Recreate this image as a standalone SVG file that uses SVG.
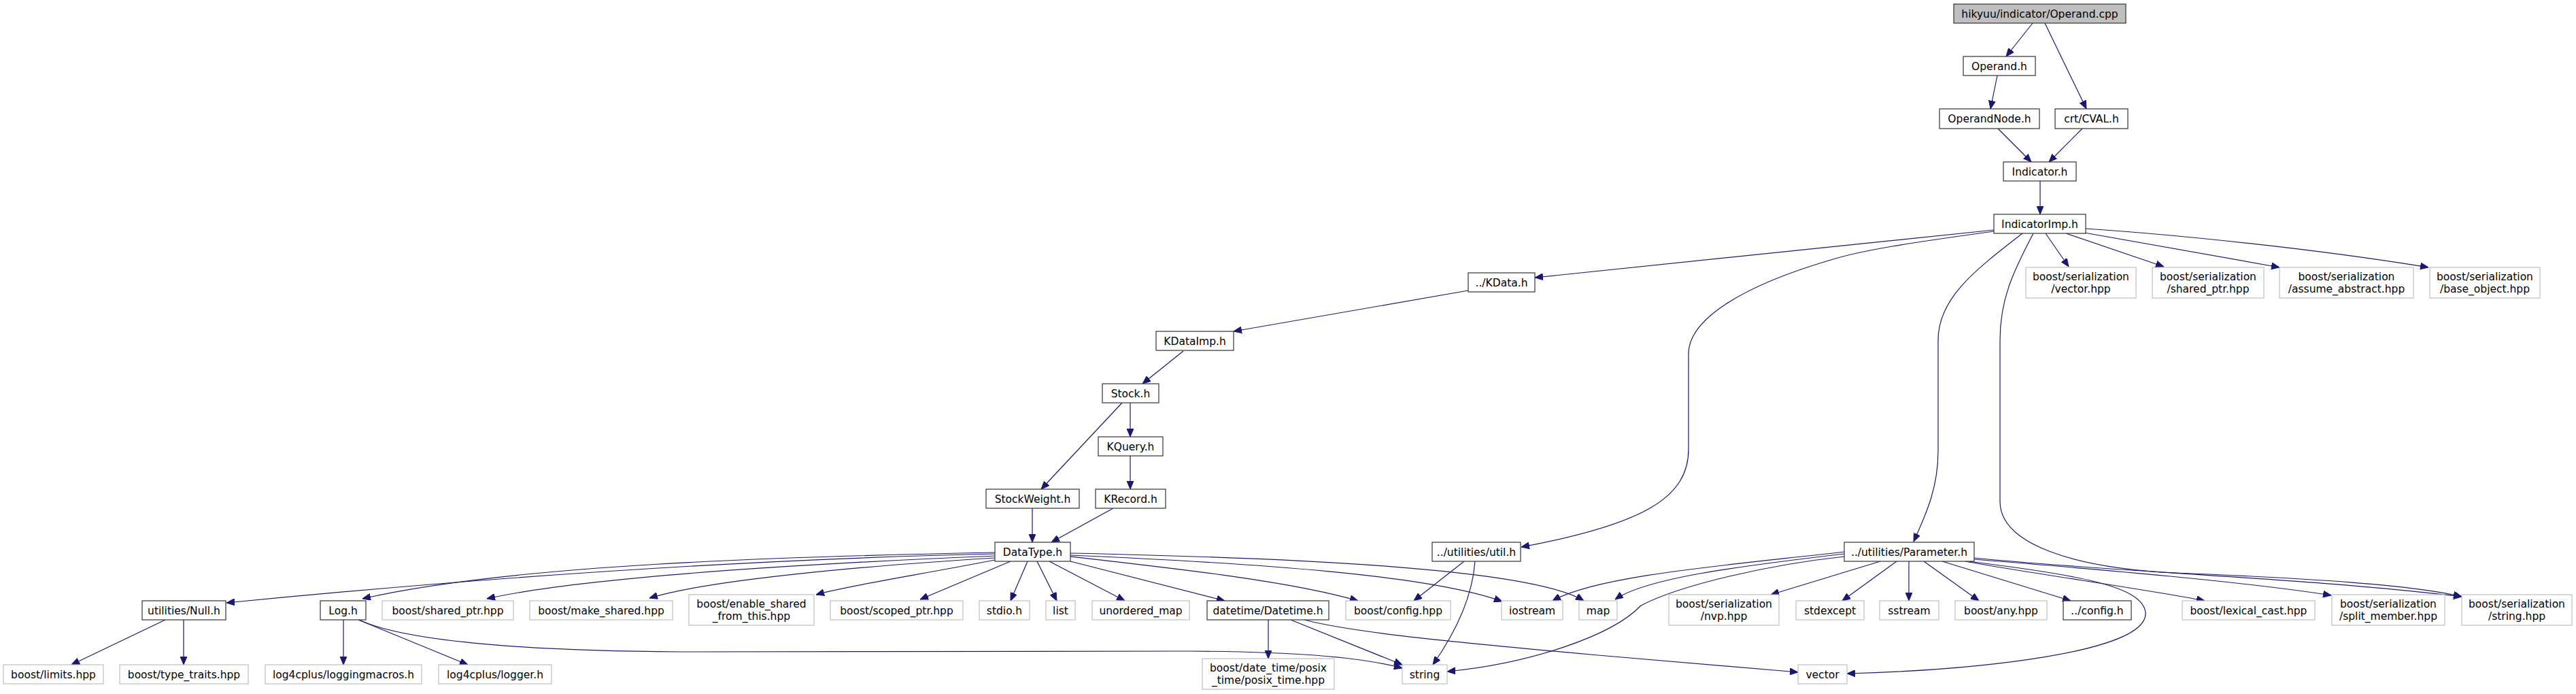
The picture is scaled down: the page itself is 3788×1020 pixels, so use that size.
<svg xmlns="http://www.w3.org/2000/svg" width="3788" height="1020" viewBox="0 0 3788 1020">
<style>
rect{fill:#fff;stroke:#333;stroke-width:1.2}
.root rect{fill:#bfbfbf;stroke:#333}
.ext rect{stroke:#bfbfbf}
text{font-family:"DejaVu Sans","Liberation Sans",sans-serif;font-size:15.5px;fill:#000;text-anchor:middle}
#edges path{fill:none;stroke:#191970;stroke-width:1.2;marker-end:url(#a)}
</style>
<defs>
<marker id="a" markerWidth="12" markerHeight="10" refX="12" refY="5" orient="auto" markerUnits="userSpaceOnUse"><path d="M0,0 L12,5 L0,10 z" fill="#191970" stroke="#191970" stroke-width="1"/></marker>
</defs>
<rect x="0" y="0" width="3788" height="1020" style="fill:#fff;stroke:none"/>
<g id="edges">
<path d="M2989,34 L2950,83"/>
<path d="M3007,34 L3068,160"/>
<path d="M2937,111 L2927,160"/>
<path d="M2938,189 L2987,238"/>
<path d="M3062,189 L3013,238"/>
<path d="M3000,266 L3000,315"/>
<path d="M2932,338 L2257,408"/>
<path d="M2932,340 C2800,358 2740,368 2699,380 C2560,420 2483,470 2483,520 L2483,660 C2483,730 2420,770 2237,804"/>
<path d="M2974,343 C2900,400 2850,440 2850,500 L2850,663 C2850,720 2830,760 2814,796"/>
<path d="M2990,343 C2960,400 2941,440 2941,500 L2941,737 C2941,800 3050,835 3200,842 C3400,850 3550,860 3620,877"/>
<path d="M3008,343 L3042,392"/>
<path d="M3038,343 L3182,392"/>
<path d="M3065,342 L3352,393"/>
<path d="M3067,336 C3200,345 3400,365 3571,393"/>
<path d="M2159,427 L1814,487"/>
<path d="M1740,516 L1680,564"/>
<path d="M1662,592 L1662,642"/>
<path d="M1650,592 L1531,719"/>
<path d="M1662,670 L1662,719"/>
<path d="M1518,747 L1518,797"/>
<path d="M1637,747 L1546,797"/>
<path d="M1463,812 C1150,818 750,830 533,880"/>
<path d="M1463,814 C1100,822 700,850 333,886"/>
<path d="M1463,817 C1150,830 850,850 716,880"/>
<path d="M1463,820 C1300,830 1050,850 955,879"/>
<path d="M1463,823 C1350,845 1250,860 1200,874"/>
<path d="M1486,825 L1353,881"/>
<path d="M1511,825 L1486,883"/>
<path d="M1525,825 L1554,883"/>
<path d="M1543,825 L1654,883"/>
<path d="M1574,813 C1900,820 2250,835 2329,883"/>
<path d="M1574,816 C1850,828 2100,845 2209,884"/>
<path d="M1574,818 C1750,838 1900,855 1997,883"/>
<path d="M1574,825 L1801,883"/>
<path d="M243,911 L105,977"/>
<path d="M270,911 L270,977"/>
<path d="M505,911 L505,977"/>
<path d="M527,911 L688,977"/>
<path d="M528,911 C600,945 800,957 1000,958 L1750,957 C1900,958 2000,965 2062,982"/>
<path d="M1865,911 L1865,968"/>
<path d="M1898,911 L2062,977"/>
<path d="M1918,911 C1990,930 2150,945 2350,963 L2644,988"/>
<path d="M2153,825 L2079,883"/>
<path d="M2169,825 C2165,880 2140,930 2107,977"/>
<path d="M2712,811 C2550,830 2350,845 2283,883"/>
<path d="M2712,814 C2550,833 2420,850 2375,881"/>
<path d="M2712,818 C2600,830 2470,860 2413,890 C2370,935 2250,975 2128,987"/>
<path d="M2765,825 L2604,874"/>
<path d="M2789,825 L2709,883"/>
<path d="M2807,825 L2807,883"/>
<path d="M2829,825 L2910,883"/>
<path d="M2856,825 L3045,883"/>
<path d="M2890,825 C3000,845 3150,865 3242,883"/>
<path d="M2903,822 C3100,838 3300,855 3428,875"/>
<path d="M2903,820 C3100,840 3400,850 3620,877"/>
<path d="M2895,825 C3050,845 3150,860 3155,900 C3160,960 2900,985 2716,990"/>
</g>
<g id="n0" class="root"><rect x="2873" y="6" width="253" height="28"/><text x="2999.5" y="25.5">hikyuu/indicator/Operand.cpp</text></g>
<g id="n1"><rect x="2887" y="83" width="106" height="28"/><text x="2940" y="102.5">Operand.h</text></g>
<g id="n2"><rect x="2852" y="160" width="147" height="29"/><text x="2925.5" y="180">OperandNode.h</text></g>
<g id="n3"><rect x="3022" y="160" width="107" height="29"/><text x="3075.5" y="180">crt/CVAL.h</text></g>
<g id="n4"><rect x="2946" y="238" width="107" height="28"/><text x="2999.5" y="257.5">Indicator.h</text></g>
<g id="n5"><rect x="2932" y="315" width="135" height="28"/><text x="2999.5" y="334.5">IndicatorImp.h</text></g>
<g id="n6" class="ext"><rect x="2979" y="393" width="162" height="45"/><text x="3060" y="412">boost/serialization</text><text x="3060" y="430">/vector.hpp</text></g>
<g id="n7" class="ext"><rect x="3165" y="393" width="164" height="45"/><text x="3247" y="412">boost/serialization</text><text x="3247" y="430">/shared_ptr.hpp</text></g>
<g id="n8" class="ext"><rect x="3352" y="393" width="197" height="45"/><text x="3450.5" y="412">boost/serialization</text><text x="3450.5" y="430">/assume_abstract.hpp</text></g>
<g id="n9" class="ext"><rect x="3573" y="393" width="162" height="45"/><text x="3654" y="412">boost/serialization</text><text x="3654" y="430">/base_object.hpp</text></g>
<g id="n10"><rect x="2159" y="401" width="98" height="28"/><text x="2208" y="420.5">../KData.h</text></g>
<g id="n11"><rect x="1700" y="487" width="114" height="28"/><text x="1757" y="506.5">KDataImp.h</text></g>
<g id="n12"><rect x="1621" y="564" width="83" height="28"/><text x="1662.5" y="583.5">Stock.h</text></g>
<g id="n13"><rect x="1615" y="642" width="95" height="28"/><text x="1662.5" y="661.5">KQuery.h</text></g>
<g id="n14"><rect x="1450" y="719" width="137" height="28"/><text x="1518.5" y="738.5">StockWeight.h</text></g>
<g id="n15"><rect x="1611" y="719" width="103" height="28"/><text x="1662.5" y="738.5">KRecord.h</text></g>
<g id="n16"><rect x="1463" y="797" width="111" height="28"/><text x="1518.5" y="816.5">DataType.h</text></g>
<g id="n17"><rect x="2106" y="797" width="130" height="28"/><text x="2171" y="816.5">../utilities/util.h</text></g>
<g id="n18"><rect x="2712" y="797" width="191" height="28"/><text x="2807.5" y="816.5">../utilities/Parameter.h</text></g>
<g id="n19"><rect x="209" y="883" width="123" height="28"/><text x="270.5" y="902.5">utilities/Null.h</text></g>
<g id="n20"><rect x="471" y="883" width="67" height="28"/><text x="504.5" y="902.5">Log.h</text></g>
<g id="n21" class="ext"><rect x="562" y="883" width="193" height="28"/><text x="658.5" y="902.5">boost/shared_ptr.hpp</text></g>
<g id="n22" class="ext"><rect x="779" y="883" width="210" height="28"/><text x="884" y="902.5">boost/make_shared.hpp</text></g>
<g id="n23" class="ext"><rect x="1013" y="874" width="184" height="45"/><text x="1105" y="893">boost/enable_shared</text><text x="1105" y="911">_from_this.hpp</text></g>
<g id="n24" class="ext"><rect x="1221" y="883" width="195" height="28"/><text x="1318.5" y="902.5">boost/scoped_ptr.hpp</text></g>
<g id="n25" class="ext"><rect x="1440" y="883" width="74" height="28"/><text x="1477" y="902.5">stdio.h</text></g>
<g id="n26" class="ext"><rect x="1538" y="883" width="43" height="28"/><text x="1559.5" y="902.5">list</text></g>
<g id="n27" class="ext"><rect x="1606" y="883" width="143" height="28"/><text x="1677.5" y="902.5">unordered_map</text></g>
<g id="n28"><rect x="1775" y="883" width="179" height="28"/><text x="1864.5" y="902.5">datetime/Datetime.h</text></g>
<g id="n29" class="ext"><rect x="1979" y="883" width="154" height="28"/><text x="2056" y="902.5">boost/config.hpp</text></g>
<g id="n30" class="ext"><rect x="2208" y="883" width="90" height="28"/><text x="2253" y="902.5">iostream</text></g>
<g id="n31" class="ext"><rect x="2322" y="883" width="56" height="28"/><text x="2350" y="902.5">map</text></g>
<g id="n32" class="ext"><rect x="2454" y="874" width="162" height="45"/><text x="2535" y="893">boost/serialization</text><text x="2535" y="911">/nvp.hpp</text></g>
<g id="n33" class="ext"><rect x="2641" y="883" width="100" height="28"/><text x="2691" y="902.5">stdexcept</text></g>
<g id="n34" class="ext"><rect x="2764" y="883" width="87" height="28"/><text x="2807.5" y="902.5">sstream</text></g>
<g id="n35" class="ext"><rect x="2875" y="883" width="135" height="28"/><text x="2942.5" y="902.5">boost/any.hpp</text></g>
<g id="n36"><rect x="3034" y="883" width="100" height="28"/><text x="3084" y="902.5">../config.h</text></g>
<g id="n37" class="ext"><rect x="3209" y="883" width="195" height="28"/><text x="3306.5" y="902.5">boost/lexical_cast.hpp</text></g>
<g id="n38" class="ext"><rect x="3429" y="874" width="166" height="45"/><text x="3512" y="893">boost/serialization</text><text x="3512" y="911">/split_member.hpp</text></g>
<g id="n39" class="ext"><rect x="3620" y="874" width="162" height="45"/><text x="3701" y="893">boost/serialization</text><text x="3701" y="911">/string.hpp</text></g>
<g id="n40" class="ext"><rect x="5" y="977" width="147" height="28"/><text x="78.5" y="996.5">boost/limits.hpp</text></g>
<g id="n41" class="ext"><rect x="176" y="977" width="189" height="28"/><text x="270.5" y="996.5">boost/type_traits.hpp</text></g>
<g id="n42" class="ext"><rect x="390" y="977" width="230" height="28"/><text x="505" y="996.5">log4cplus/loggingmacros.h</text></g>
<g id="n43" class="ext"><rect x="645" y="977" width="166" height="28"/><text x="728" y="996.5">log4cplus/logger.h</text></g>
<g id="n44" class="ext"><rect x="1768" y="968" width="194" height="45"/><text x="1865" y="987">boost/date_time/posix</text><text x="1865" y="1005">_time/posix_time.hpp</text></g>
<g id="n45" class="ext"><rect x="2062" y="977" width="66" height="28"/><text x="2095" y="996.5">string</text></g>
<g id="n46" class="ext"><rect x="2644" y="977" width="72" height="28"/><text x="2680" y="996.5">vector</text></g>
</svg>
